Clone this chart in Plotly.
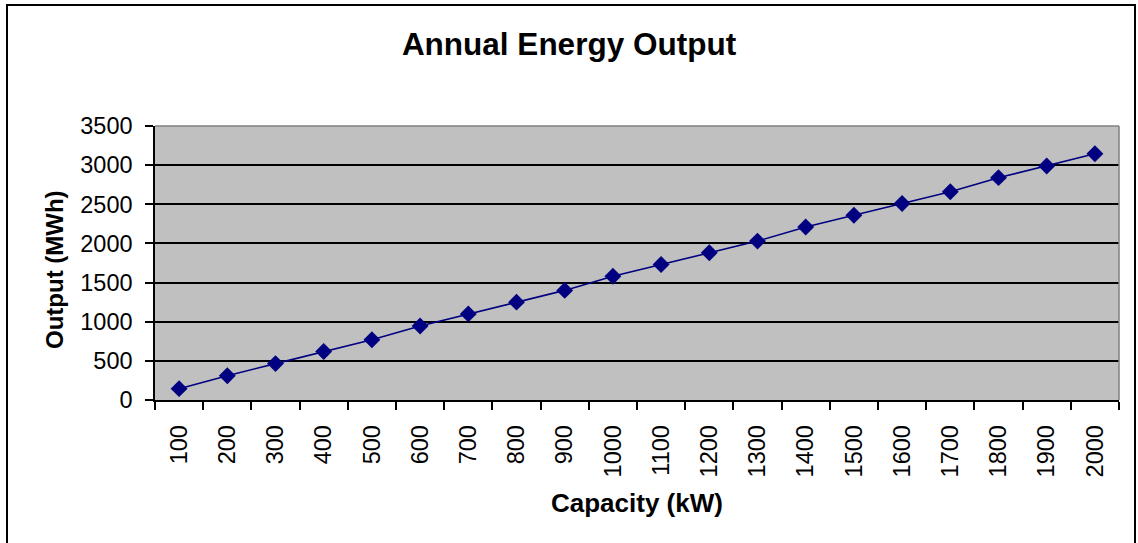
import plotly.graph_objects as go

# Plant capacity (kW) and yearly energy yield (MWh)
capacity_kw = ["100", "200", "300", "400", "500", "600", "700", "800", "900", "1000",
               "1100", "1200", "1300", "1400", "1500", "1600", "1700", "1800", "1900", "2000"]
output_mwh = [145, 310, 465, 620, 770, 945, 1100, 1250, 1400, 1580,
              1730, 1880, 2030, 2210, 2360, 2510, 2660, 2840, 2990, 3145]
y_ticks = [0, 500, 1000, 1500, 2000, 2500, 3000, 3500]

W, H = 1138, 543
L, R, T, B = 155, 1119, 126, 400  # plot area in pixels
FONT = "Liberation Sans, Arial, sans-serif"
NAVY = "#000080"

fig = go.Figure(
    go.Scatter(
        x=capacity_kw,
        y=output_mwh,
        mode="lines+markers",
        line=dict(color=NAVY, width=1.6),
        marker=dict(symbol="diamond", size=13, color=NAVY),
        showlegend=False,
        cliponaxis=False,
    )
)

fig.update_layout(
    width=W,
    height=H,
    margin=dict(l=L, r=W - R, t=T, b=H - B, pad=0),
    paper_bgcolor="white",
    plot_bgcolor="#C0C0C0",
    font=dict(family=FONT, color="black"),
    title=dict(
        text="<b>Annual Energy Output</b>",
        font=dict(size=31.5, family=FONT, color="black"),
        x=0.5, xref="container", xanchor="center",
        y=1 - 44 / H, yref="container", yanchor="middle",
    ),
)

fig.update_xaxes(
    type="category",
    range=[-0.5, len(capacity_kw) - 0.5],
    tickson="boundaries",
    ticks="outside",
    ticklen=8,
    tickwidth=1.5,
    tickcolor="black",
    tickangle=-90,
    tickfont=dict(size=23.5, family=FONT, color="black"),
    ticklabelstandoff=14,
    showgrid=False,
    showline=True,
    linecolor="black",
    linewidth=1.5,
    zeroline=False,
    fixedrange=True,
)

fig.update_yaxes(
    range=[0, 3500],
    tickvals=y_ticks,
    ticktext=[str(v) for v in y_ticks],
    ticks="outside",
    ticklen=8,
    tickwidth=1.5,
    tickcolor="black",
    tickfont=dict(size=23.5, family=FONT, color="black"),
    ticklabelstandoff=8,
    showgrid=True,
    gridcolor="black",
    gridwidth=1.5,
    showline=True,
    linecolor="black",
    linewidth=1.5,
    zeroline=False,
    fixedrange=True,
)

pw, ph = R - L, B - T

# Axis titles
fig.add_annotation(
    text="<b>Capacity (kW)</b>", xref="paper", yref="paper",
    x=0.5, y=(B - 503) / ph, xanchor="center", yanchor="middle",
    showarrow=False, font=dict(size=26, family=FONT, color="black"),
)
fig.add_annotation(
    text="<b>Output (MWh)</b>", xref="paper", yref="paper",
    x=(54 - L) / pw, y=(B - 270) / ph, xanchor="center", yanchor="middle",
    textangle=-90, showarrow=False, font=dict(size=24, family=FONT, color="black"),
)

# Gray frame on top and right of the plot area
fig.add_shape(type="line", xref="paper", yref="paper", x0=0, x1=1, y0=1, y1=1,
              line=dict(color="#808080", width=1.5), layer="above")
fig.add_shape(type="line", xref="paper", yref="paper", x0=1, x1=1, y0=0, y1=1,
              line=dict(color="#808080", width=1.5), layer="above")

# Outer chart border
fig.add_shape(type="rect", xref="paper", yref="paper",
              x0=(7 - L) / pw, x1=(1135 - L) / pw,
              y0=(B - 570) / ph, y1=(B - 5) / ph,
              line=dict(color="black", width=2), fillcolor="rgba(0,0,0,0)", layer="below")

fig.write_html("out.html", config={"displayModeBar": False})
